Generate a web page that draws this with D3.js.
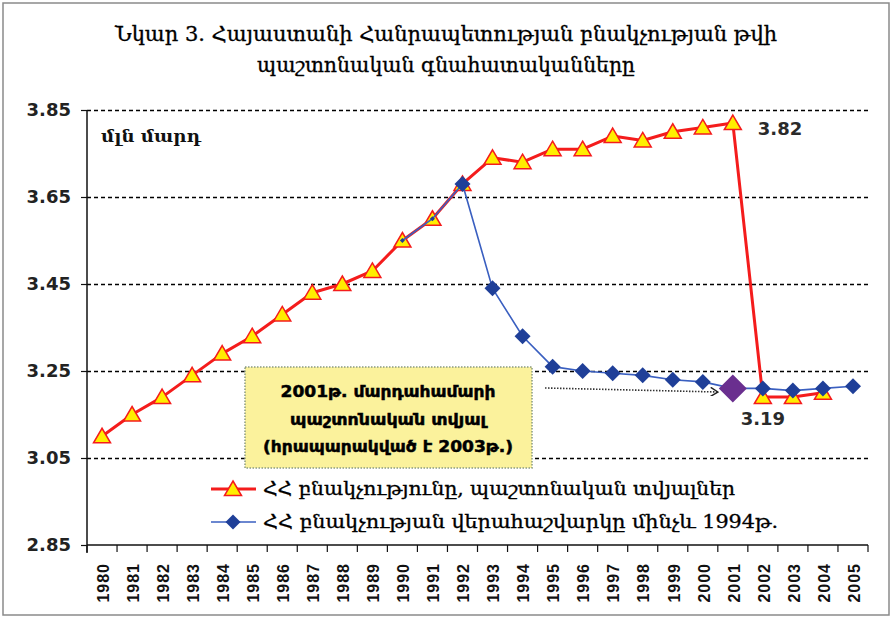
<!DOCTYPE html>
<html>
<head>
<meta charset="utf-8">
<script src="https://cdn.jsdelivr.net/npm/d3@7"></script>
<style>
  body { margin: 0; background: #fff; }
  svg { display: block; }
</style>
</head>
<body>
<svg id="chart" width="892" height="618"></svg>
<script>
// categories and values
const years = ["1980","1981","1982","1983","1984","1985","1986","1987","1988","1989",
  "1990","1991","1992","1993","1994","1995","1996","1997","1998","1999",
  "2000","2001","2002","2003","2004","2005"];
const officialPop = [3.10, 3.15, 3.19, 3.24, 3.29, 3.33, 3.38, 3.43, 3.45, 3.48,
  3.55, 3.60, 3.68, 3.74, 3.73, 3.76, 3.76, 3.79, 3.78, 3.80,
  3.81, 3.82, 3.19, 3.19, 3.20, null];
const recalcPop = [null, null, null, null, null, null, null, null, null, null,
  3.55, 3.60, 3.68, 3.44, 3.33, 3.26, 3.25, 3.245, 3.24, 3.23,
  3.225, 3.21, 3.21, 3.205, 3.21, 3.215];
const yTicks = [2.85, 3.05, 3.25, 3.45, 3.65, 3.85];
const titleLines = ["Նկար 3. Հայաստանի Հանրապետության բնակչության թվի", "պաշտոնական գնահատականները"];
const boxLines = ["2001թ. մարդահամարի", "պաշտոնական տվյալ", "(հրապարակված է 2003թ.)"];
const legendNames = ["ՀՀ բնակչությունը, պաշտոնական տվյալներ", "ՀՀ բնակչության վերահաշվարկը մինչև 1994թ."];
const unitLabel = "մլն մարդ";
const censusYear = "2001";
const recalcStart = "1992"; // diamonds drawn from here on

let svg = d3.select("#chart");
const serif = "'DejaVu Serif Condensed', 'DejaVu Serif', 'DejaVu Sans', serif";

// outer frame
svg.append("rect")
  .attr("x", 3).attr("y", 3).attr("width", 886).attr("height", 612)
  .attr("fill", "#fff").attr("stroke", "#8a8a8a").attr("stroke-width", 1.5);

// title
const titleWidths = [662, 378];
titleLines.forEach((t, i) => {
  svg.append("text")
    .attr("x", 446).attr("y", 41 + i * 31)
    .attr("text-anchor", "middle")
    .attr("textLength", titleWidths[i]).attr("lengthAdjust", "spacingAndGlyphs")
    .style("font-family", serif).style("font-size", "21px").attr("fill", "#000")
    .style("stroke", "#000").style("stroke-width", 0.3)
    .text(t);
});

let x = d3.scaleBand().domain(years).range([87, 868]);
let y = d3.scaleLinear().domain([2.85, 3.85]).range([545, 110]);
const cx = d => x(d) + x.bandwidth() / 2;

// dashed gridlines
svg.selectAll(".grid").data(yTicks.filter(v => v > 2.85)).enter()
  .append("line").attr("class", "grid")
  .attr("x1", 87).attr("x2", 868)
  .attr("y1", d => Math.round(y(d)) + 0.5).attr("y2", d => Math.round(y(d)) + 0.5)
  .attr("stroke", "#000").attr("stroke-width", 1.4)
  .attr("stroke-dasharray", "4,3");

// y axis
let yAxis = svg.append("g").attr("transform", "translate(87,0)")
  .call(d3.axisLeft(y).tickValues(yTicks).tickFormat(d3.format(".2f")).tickSize(6).tickPadding(10));
yAxis.select(".domain").attr("stroke", "#111").attr("stroke-width", 1.5).attr("d", "M0,110V553");
yAxis.selectAll(".tick line").attr("stroke", "#111").attr("stroke-width", 1.2);
yAxis.selectAll(".tick text")
  .style("font-family", "'DejaVu Sans', sans-serif").style("font-size", "18px")
  .style("font-weight", "bold").attr("fill", "#222");

// x axis: ticks on category boundaries
let xAxis = svg.append("g").attr("transform", "translate(0," + y(2.85) + ")");
xAxis.append("line").attr("x1", 87).attr("x2", 868).attr("stroke", "#111").attr("stroke-width", 1.5);
xAxis.selectAll(".xt").data(years.concat(["end"])).enter()
  .append("line").attr("class", "xt")
  .attr("x1", (d, i) => i < years.length ? x(d) : x(years[years.length - 1]) + x.bandwidth())
  .attr("x2", (d, i) => i < years.length ? x(d) : x(years[years.length - 1]) + x.bandwidth())
  .attr("y1", 0).attr("y2", 7)
  .attr("stroke", "#111").attr("stroke-width", 1.2);
xAxis.selectAll(".xl").data(years).enter()
  .append("text").attr("class", "xl")
  .attr("transform", d => "translate(" + (cx(d) + 1) + ",18) rotate(-90)")
  .attr("dy", "0.36em")
  .attr("text-anchor", "end")
  .style("font-family", "'Liberation Sans', Arial, sans-serif").style("font-size", "16px")
  .style("font-weight", "bold").style("letter-spacing", "1px").attr("fill", "#111")
  .text(d => d);

// unit label
svg.append("text").attr("x", 101).attr("y", 142)
  .attr("textLength", 100).attr("lengthAdjust", "spacingAndGlyphs")
  .style("font-family", serif).style("font-size", "17px").style("font-weight", "bold").attr("fill", "#111")
  .text(unitLabel);

// annotation box
svg.append("rect")
  .attr("x", 245).attr("y", 367).attr("width", 287).attr("height", 101)
  .attr("fill", "#fbf29c").attr("stroke", "#8a9a80").attr("stroke-width", 1.5)
  .attr("stroke-dasharray", "1.5,1.5");
const boxWidths = [215, 196, 250];
boxLines.forEach((t, i) => {
  svg.append("text")
    .attr("x", 388).attr("y", 397 + i * 27.5)
    .attr("text-anchor", "middle")
    .attr("textLength", boxWidths[i]).attr("lengthAdjust", "spacingAndGlyphs")
    .style("font-family", "'DejaVu Sans', sans-serif").style("font-size", "16px")
    .style("font-weight", "bold").attr("fill", "#000")
    .style("stroke", "#000").style("stroke-width", 0.5)
    .text(t);
});

// dotted arrow towards census point
let defs = svg.append("defs");
defs.append("marker").attr("id", "chev")
  .attr("viewBox", "0 0 10 10").attr("refX", 9).attr("refY", 5)
  .attr("markerWidth", 9).attr("markerHeight", 9).attr("orient", "auto")
  .attr("markerUnits", "userSpaceOnUse")
  .append("path").attr("d", "M1,0L9,5L1,10").attr("fill", "none")
  .attr("stroke", "#222").attr("stroke-width", 1.6);
svg.append("line")
  .attr("x1", 545).attr("y1", 388)
  .attr("x2", cx(censusYear) - 15).attr("y2", 392)
  .attr("stroke", "#333").attr("stroke-width", 1.6)
  .attr("stroke-dasharray", "1.5,1.5")
  .attr("marker-end", "url(#chev)");

// series
const lineGen = d3.line()
  .defined(d => d.v != null)
  .x(d => cx(d.year)).y(d => y(d.v));
const official = years.map((yr, i) => ({year: yr, v: officialPop[i]}));
const recalc = years.map((yr, i) => ({year: yr, v: recalcPop[i]}));

const triPath = "M0,-8L8.5,6.5L-8.5,6.5Z";
const diamond = r => "M0," + (-r) + "L" + r + ",0L0," + r + "L" + (-r) + ",0Z";

svg.append("path").datum(official)
  .attr("d", lineGen).attr("fill", "none")
  .attr("stroke", "#f41c1c").attr("stroke-width", 3).attr("stroke-linejoin", "round");
svg.selectAll(".tri").data(official.filter(d => d.v != null)).enter()
  .append("path").attr("class", "tri")
  .attr("transform", d => "translate(" + cx(d.year) + "," + y(d.v) + ")")
  .attr("d", triPath)
  .attr("fill", "#ffee00").attr("stroke", "#f41c1c").attr("stroke-width", 1.5);

svg.append("path").datum(recalc)
  .attr("d", lineGen).attr("fill", "none")
  .attr("stroke", "#3a5fc0").attr("stroke-width", 1.6);
// tiny points where the recalculation overlaps the official series
svg.selectAll(".dot").data(recalc.filter(d => d.v != null && +d.year < +recalcStart)).enter()
  .append("path").attr("class", "dot")
  .attr("transform", d => "translate(" + cx(d.year) + "," + y(d.v) + ")")
  .attr("d", diamond(2.5)).attr("fill", "#1f3d99");
svg.selectAll(".dia").data(recalc.filter(d => d.v != null && +d.year >= +recalcStart)).enter()
  .append("path").attr("class", "dia")
  .attr("transform", d => "translate(" + cx(d.year) + "," + y(d.v) + ")")
  .attr("d", d => d.year === censusYear ? diamond(14) : diamond(8))
  .attr("fill", d => d.year === censusYear ? "#6a2f8f" : "#1f3f98");

// value labels
const peak = official.find(d => d.year === censusYear);
const drop = official.find(d => d.year === "2002");
svg.append("text").attr("x", cx(peak.year) + 25).attr("y", 135)
  .style("font-family", "'DejaVu Sans', sans-serif").style("font-size", "18px")
  .style("font-weight", "bold").attr("fill", "#2a2a2a")
  .text(peak.v.toFixed(2));
svg.append("text").attr("x", cx(drop.year)).attr("y", 425)
  .attr("text-anchor", "middle")
  .style("font-family", "'DejaVu Sans', sans-serif").style("font-size", "18px")
  .style("font-weight", "bold").attr("fill", "#2a2a2a")
  .text(drop.v.toFixed(2));

// legend
const legendWidths = [472, 515];
[0, 1].forEach(i => {
  let g = svg.append("g").attr("transform", "translate(211," + (489 + i * 33) + ")");
  g.append("line").attr("x1", 0).attr("x2", 45)
    .attr("stroke", i === 0 ? "#f41c1c" : "#3a5fc0").attr("stroke-width", i === 0 ? 3 : 1.6);
  if (i === 0) {
    g.append("path").attr("transform", "translate(22,0)").attr("d", triPath)
      .attr("fill", "#ffee00").attr("stroke", "#f41c1c").attr("stroke-width", 1.5);
  } else {
    g.append("path").attr("transform", "translate(22,0)").attr("d", diamond(7.5))
      .attr("fill", "#1f3f98");
  }
  g.append("text").attr("x", 52).attr("y", 6)
    .attr("textLength", legendWidths[i]).attr("lengthAdjust", "spacingAndGlyphs")
    .style("font-family", serif).style("font-size", "19px").attr("fill", "#000")
    .style("stroke", "#000").style("stroke-width", 0.3)
    .text(legendNames[i]);
});
</script>
</body>
</html>
